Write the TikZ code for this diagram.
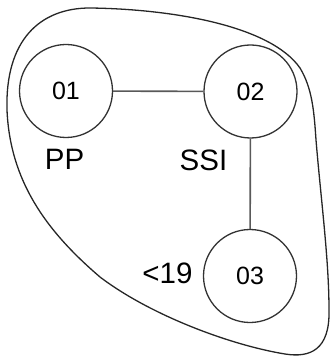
\documentclass[tikz,border=0pt]{standalone}
\usepackage{fontspec}
\setmainfont{Liberation Sans}
\begin{document}
\begin{tikzpicture}[x=1pt,y=-1pt,
  nodecirc/.style={circle,draw=black!80,line width=1.3pt,minimum size=93pt,inner sep=0pt,font=\fontsize{25}{29}\selectfont},
  lbl/.style={inner sep=0pt,font=\fontsize{29.5}{33}\selectfont,anchor=base},
  conn/.style={draw=black!65,line width=1.6pt},
  blob/.style={draw=black!85,line width=1.3pt}]
\useasboundingbox (0,0) rectangle (331,358);
\draw[blob] (7,110) .. controls (5,40) and (40,8) .. (90,8)
  .. controls (170,9) and (270,25) .. (300,68)
  .. controls (312,88) and (314,110) .. (316,140)
  .. controls (321,200) and (329,260) .. (329,310)
  .. controls (330,350) and (310,358) .. (285,354)
  .. controls (230,345) and (150,315) .. (100,277)
  .. controls (45,230) and (10,180) .. (7,110) -- cycle;
\node[nodecirc] (n1) at (66,91) {01};
\node[nodecirc] (n2) at (250.5,91.5) {02};
\node[nodecirc] (n3) at (250,276) {03};
\draw[conn] (n1) -- (n2);
\draw[conn] (n2) -- (n3);
\node[lbl] (pp) at (64.5,169) {PP};
\node[lbl] (ssi) at (203.5,170) {SSI};
\node[lbl] (lt) at (167.5,283) {<19};
\end{tikzpicture}
\end{document}
